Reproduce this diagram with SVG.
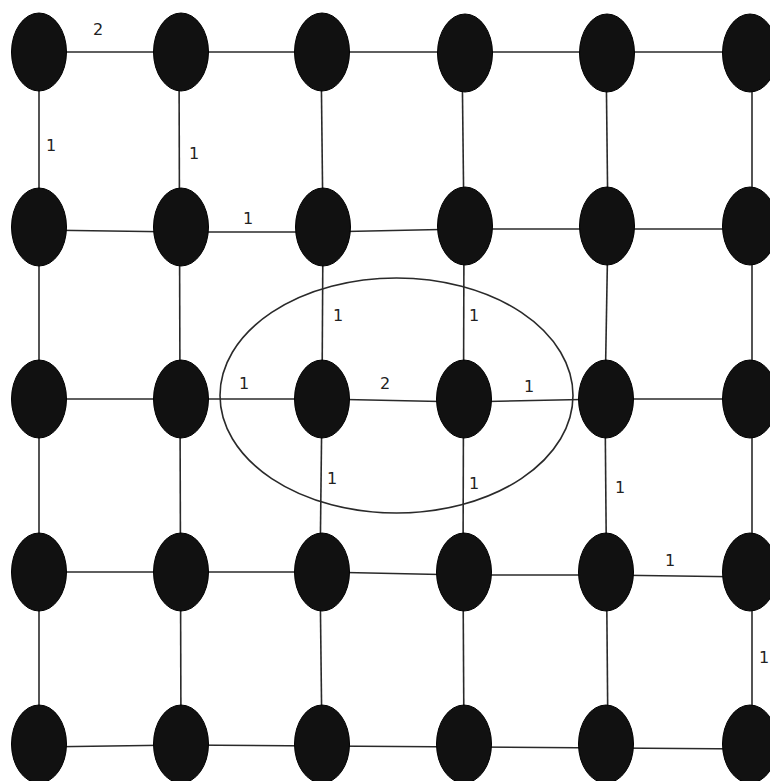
<svg xmlns="http://www.w3.org/2000/svg" width="770" height="781" viewBox="0 0 770 781">
<style>
.n{fill:#111;stroke:#000;stroke-width:1}
.e{stroke:#2a2a2a;stroke-width:1.6;fill:none}
.l{font-family:"DejaVu Sans",Verdana,sans-serif;font-size:16px;fill:#222;text-anchor:middle}
</style>
<rect width="770" height="781" fill="#fff"/>
<g id="connectors" class="e">
<line x1="39" y1="52" x2="750" y2="52"/>
<line x1="39" y1="230" x2="181" y2="232"/>
<line x1="181" y1="232" x2="322" y2="232"/>
<line x1="322" y1="232" x2="464" y2="229"/>
<line x1="464" y1="229" x2="750" y2="229"/>
<line x1="39" y1="399" x2="322" y2="399"/>
<line x1="322" y1="399" x2="464" y2="402"/>
<line x1="464" y1="402" x2="606" y2="399"/>
<line x1="606" y1="399" x2="750" y2="399"/>
<line x1="39" y1="572" x2="322" y2="572"/>
<line x1="322" y1="572" x2="464" y2="575"/>
<line x1="464" y1="575" x2="606" y2="575"/>
<line x1="606" y1="575" x2="750" y2="577"/>
<line x1="39" y1="747" x2="181" y2="745"/>
<line x1="181" y1="745" x2="322" y2="746"/>
<line x1="322" y1="746" x2="750" y2="749"/>
<line x1="39" y1="52" x2="39" y2="744"/>
<line x1="179" y1="52" x2="181" y2="744"/>
<line x1="321" y1="52" x2="323" y2="227"/>
<line x1="323" y1="227" x2="322" y2="399"/>
<line x1="322" y1="399" x2="320" y2="572"/>
<line x1="320" y1="572" x2="322" y2="744"/>
<line x1="462" y1="52" x2="464" y2="227"/>
<line x1="464" y1="227" x2="463" y2="572"/>
<line x1="463" y1="572" x2="464" y2="744"/>
<line x1="606" y1="52" x2="608" y2="227"/>
<line x1="608" y1="227" x2="605" y2="399"/>
<line x1="605" y1="399" x2="608" y2="744"/>
<line x1="752" y1="52" x2="752" y2="744"/>
</g>
<ellipse id="group-ellipse" cx="396.5" cy="395.5" rx="176.5" ry="117.5" fill="none" stroke="#2a2a2a" stroke-width="1.6"/>
<g id="n00"><ellipse class="n" cx="39" cy="52" rx="27.5" ry="39"/></g>
<g id="n10"><ellipse class="n" cx="181" cy="52" rx="27.5" ry="39"/></g>
<g id="n20"><ellipse class="n" cx="322" cy="52" rx="27.5" ry="39"/></g>
<g id="n30"><ellipse class="n" cx="465" cy="53" rx="27.5" ry="39"/></g>
<g id="n40"><ellipse class="n" cx="607" cy="53" rx="27.5" ry="39"/></g>
<g id="n50"><ellipse class="n" cx="750" cy="53" rx="27.5" ry="39"/></g>
<g id="n01"><ellipse class="n" cx="39" cy="227" rx="27.5" ry="39"/></g>
<g id="n11"><ellipse class="n" cx="181" cy="227" rx="27.5" ry="39"/></g>
<g id="n21"><ellipse class="n" cx="323" cy="227" rx="27.5" ry="39"/></g>
<g id="n31"><ellipse class="n" cx="465" cy="226" rx="27.5" ry="39"/></g>
<g id="n41"><ellipse class="n" cx="607" cy="226" rx="27.5" ry="39"/></g>
<g id="n51"><ellipse class="n" cx="750" cy="226" rx="27.5" ry="39"/></g>
<g id="n02"><ellipse class="n" cx="39" cy="399" rx="27.5" ry="39"/></g>
<g id="n12"><ellipse class="n" cx="181" cy="399" rx="27.5" ry="39"/></g>
<g id="n22"><ellipse class="n" cx="322" cy="399" rx="27.5" ry="39"/></g>
<g id="n32"><ellipse class="n" cx="464" cy="399" rx="27.5" ry="39"/></g>
<g id="n42"><ellipse class="n" cx="606" cy="399" rx="27.5" ry="39"/></g>
<g id="n52"><ellipse class="n" cx="750" cy="399" rx="27.5" ry="39"/></g>
<g id="n03"><ellipse class="n" cx="39" cy="572" rx="27.5" ry="39"/></g>
<g id="n13"><ellipse class="n" cx="181" cy="572" rx="27.5" ry="39"/></g>
<g id="n23"><ellipse class="n" cx="322" cy="572" rx="27.5" ry="39"/></g>
<g id="n33"><ellipse class="n" cx="464" cy="572" rx="27.5" ry="39"/></g>
<g id="n43"><ellipse class="n" cx="606" cy="572" rx="27.5" ry="39"/></g>
<g id="n53"><ellipse class="n" cx="750" cy="572" rx="27.5" ry="39"/></g>
<g id="n04"><ellipse class="n" cx="39" cy="744" rx="27.5" ry="39"/></g>
<g id="n14"><ellipse class="n" cx="181" cy="744" rx="27.5" ry="39"/></g>
<g id="n24"><ellipse class="n" cx="322" cy="744" rx="27.5" ry="39"/></g>
<g id="n34"><ellipse class="n" cx="464" cy="744" rx="27.5" ry="39"/></g>
<g id="n44"><ellipse class="n" cx="606" cy="744" rx="27.5" ry="39"/></g>
<g id="n54"><ellipse class="n" cx="750" cy="744" rx="27.5" ry="39"/></g>
<g id="labels" class="l">
<text x="98" y="35">2</text>
<text x="51" y="151">1</text>
<text x="194" y="159">1</text>
<text x="248" y="224">1</text>
<text x="338" y="321">1</text>
<text x="474" y="321">1</text>
<text x="244" y="389">1</text>
<text x="385" y="389">2</text>
<text x="529" y="392">1</text>
<text x="332" y="484">1</text>
<text x="474" y="489">1</text>
<text x="620" y="493">1</text>
<text x="670" y="566">1</text>
<text x="764" y="663">1</text>
</g>
</svg>
